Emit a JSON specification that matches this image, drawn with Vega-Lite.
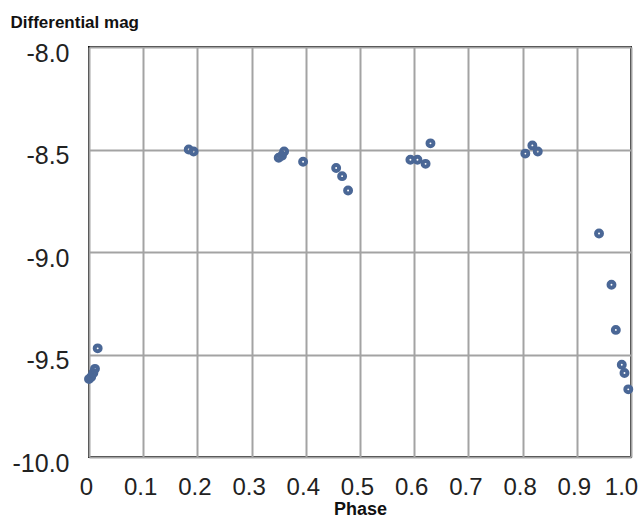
{
  "$schema": "https://vega.github.io/schema/vega-lite/v6.json",
  "width": 542,
  "height": 410,
  "autosize": {"type": "none"},
  "padding": {"left": 89, "top": 47, "right": 12, "bottom": 62},
  "background": "white",
  "config": {
    "view": {"stroke": "#111111", "strokeWidth": 2},
    "font": "Liberation Sans"
  },
  "data": {
    "values": [
      {"phase": 0.000, "mag": -9.62},
      {"phase": 0.004, "mag": -9.61},
      {"phase": 0.008, "mag": -9.59},
      {"phase": 0.011, "mag": -9.57},
      {"phase": 0.016, "mag": -9.47},
      {"phase": 0.184, "mag": -8.50},
      {"phase": 0.193, "mag": -8.51},
      {"phase": 0.350, "mag": -8.54},
      {"phase": 0.356, "mag": -8.53},
      {"phase": 0.360, "mag": -8.51},
      {"phase": 0.395, "mag": -8.56},
      {"phase": 0.456, "mag": -8.59},
      {"phase": 0.467, "mag": -8.63},
      {"phase": 0.478, "mag": -8.70},
      {"phase": 0.593, "mag": -8.55},
      {"phase": 0.606, "mag": -8.55},
      {"phase": 0.621, "mag": -8.57},
      {"phase": 0.630, "mag": -8.47},
      {"phase": 0.805, "mag": -8.52},
      {"phase": 0.818, "mag": -8.48},
      {"phase": 0.828, "mag": -8.51},
      {"phase": 0.941, "mag": -8.91},
      {"phase": 0.964, "mag": -9.16},
      {"phase": 0.972, "mag": -9.38},
      {"phase": 0.983, "mag": -9.55},
      {"phase": 0.988, "mag": -9.59},
      {"phase": 0.995, "mag": -9.67}
    ]
  },
  "mark": {"type": "point", "filled": false, "stroke": "#4a6796", "strokeWidth": 4, "size": 35, "opacity": 1, "clip": false},
  "encoding": {
    "x": {
      "field": "phase", "type": "quantitative",
      "scale": {"domain": [0, 1], "nice": false, "zero": false},
      "axis": {
        "values": [0, 0.1, 0.2, 0.3, 0.4, 0.5, 0.6, 0.7, 0.8, 0.9, 1.0],
        "labelExpr": "datum.value == 0 ? '0' : format(datum.value, '.1f')",
        "labelFont": "Liberation Sans", "labelFontSize": 24, "labelColor": "#222222",
        "labelPadding": 18, "labelOverlap": false, "labelFlush": false,
        "labelOffset": {"condition": {"test": "datum.value == 1", "value": -10}, "value": -3},
        "ticks": false, "domain": false,
        "grid": true, "gridColor": "#a3a3a3", "gridWidth": 2,
        "title": "Phase", "titleFont": "Liberation Sans", "titleFontSize": 18, "titleFontWeight": "bold",
        "titleColor": "#111111", "titleBaseline": "alphabetic", "titleY": 57
      }
    },
    "y": {
      "field": "mag", "type": "quantitative",
      "scale": {"domain": [-10, -8], "nice": false, "zero": false},
      "axis": {
        "values": [-10, -9.5, -9, -8.5, -8],
        "labelExpr": "replace(format(datum.value, '.1f'), '\u2212', '-')",
        "labelFont": "Liberation Sans", "labelFontSize": 25, "labelColor": "#222222",
        "labelPadding": 20, "labelOffset": 6, "labelOverlap": false, "labelFlush": false,
        "ticks": false, "domain": false,
        "grid": true, "gridColor": "#a3a3a3", "gridWidth": 2,
        "title": "Differential mag", "titleFont": "Liberation Sans", "titleFontSize": 17, "titleFontWeight": "bold",
        "titleColor": "#111111", "titleAngle": 0, "titleAlign": "left", "titleBaseline": "alphabetic",
        "titleX": -79, "titleY": -20
      }
    }
  }
}
